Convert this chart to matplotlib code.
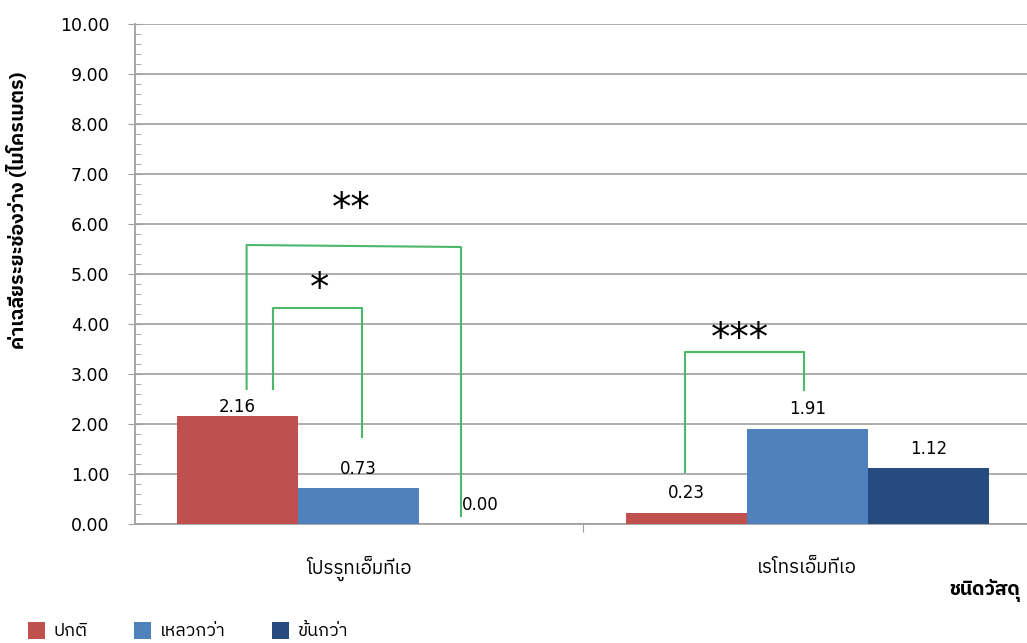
import matplotlib
matplotlib.use("Agg")
import matplotlib.pyplot as plt
from matplotlib import font_manager
from matplotlib.ft2font import FT2Font
from matplotlib.patches import Patch
from matplotlib.ticker import MultipleLocator, FormatStrFormatter
import numpy as np

categories = ["โปรรูทเอ็มทีเอ", "เรโทรเอ็มทีเอ"]
series_names = ["ปกติ", "เหลวกว่า", "ข้นกว่า"]
normal = [2.16, 0.23]
thinner = [0.73, 1.91]
thicker = [0.00, 1.12]
colors = ["#C0504D", "#4F81BD", "#254B7F"]
ylabel = "ค่าเฉลี่ยระยะช่องว่าง (ไมโครเมตร)"
xlabel = "ชนิดวัสดุ"

# find a font with Thai glyphs
pref = []
for f in font_manager.fontManager.ttflist:
    try:
        cm = FT2Font(f.fname).get_charmap()
        if ord("ก") in cm and ord("่") in cm:
            pref.append(f)
    except Exception:
        pass
def rank(f):
    n = f.name.lower()
    if "thai" in n and "looped" not in n:
        return 0
    if "dejavu sans" == n:
        return 1
    return 2
pref.sort(key=rank)
families = []
for f in pref:
    if f.name not in families:
        families.append(f.name)
fam = families[:1] + ["DejaVu Sans"]
plt.rcParams["font.family"] = fam

fig = plt.figure(figsize=(10.27, 6.43), dpi=100)
ax = fig.add_axes([134.5 / 1027, 119 / 643, 897 / 1027, 500 / 643])

x = np.arange(len(categories))
w = 0.27
series = [normal, thinner, thicker]
label_offsets = [[0.0, 0.2], [0.2, 0.2], [0.2, 0.2]]
for i, (vals, c) in enumerate(zip(series, colors)):
    pos = x + (i - 1) * w
    ax.bar(pos, vals, w, color=c, zorder=3)
    for j, (p, v) in enumerate(zip(pos, vals)):
        ax.text(p, v + label_offsets[i][j], f"{v:.2f}", ha="center", va="bottom",
                fontsize=12, family="DejaVu Sans", zorder=4)

ax.set_ylim(0, 10)
ax.set_xlim(-0.5, 1.5)
ax.yaxis.set_major_locator(MultipleLocator(1))
ax.yaxis.set_minor_locator(MultipleLocator(0.2))
ax.yaxis.set_major_formatter(FormatStrFormatter("%.2f"))
ax.grid(axis="y", color="#A6A6A6", linewidth=1.3, zorder=0)
for s in ["top", "right"]:
    ax.spines[s].set_visible(False)
for s in ["left", "bottom"]:
    ax.spines[s].set_color("#A0A0A0")
    ax.spines[s].set_linewidth(1.3)
ax.tick_params(axis="y", which="major", length=10, direction="inout", color="#A0A0A0",
               labelsize=12.5, pad=13, labelfontfamily="DejaVu Sans")
ax.tick_params(axis="y", which="minor", length=4, direction="in", color="#A0A0A0")
ax.set_xticks([0.5], minor=False)
ax.set_xticklabels([""])
ax.tick_params(axis="x", which="major", length=6, color="#A0A0A0", direction="out")
for xi, cat in zip(x, categories):
    ax.text(xi, -0.88, cat, ha="center", va="center", fontsize=13.5,
            transform=ax.transData, clip_on=False)

# significance brackets
green = "#4DB86A"
brackets = [
    ([-0.25, -0.25, 0.228, 0.228], [2.7, 5.58, 5.54, 0.16], "**", -0.017, 6.3),
    ([-0.192, -0.192, 0.008, 0.008], [2.7, 4.32, 4.32, 1.74], "*", -0.088, 4.7),
    ([0.728, 0.728, 0.992, 0.992], [1.04, 3.44, 3.44, 2.68], "***", 0.85, 3.7),
]
for bx, by, star, sx, sy in brackets:
    ax.plot(bx, by, color=green, linewidth=1.5, zorder=5)
    ax.text(sx, sy, star, ha="center", va="center", fontsize=28,
            family="DejaVu Sans", zorder=6)

fig.text(18 / 1027, 1 - 210 / 643, ylabel, rotation=90, ha="center", va="center",
         fontsize=14, fontweight="bold")
fig.text(1020 / 1027, 1 - 590 / 643, xlabel, ha="right", va="center",
         fontsize=14, fontweight="bold")

handles = [Patch(facecolor=c) for c in colors]
leg = fig.legend(handles, series_names, loc="center left",
                 bbox_to_anchor=(12 / 1027, 1 - 631 / 643), ncol=3, frameon=False,
                 fontsize=13, handlelength=0.9, handleheight=1.1, columnspacing=2.6,
                 handletextpad=0.5)

fig.savefig("out.png", dpi=100)
